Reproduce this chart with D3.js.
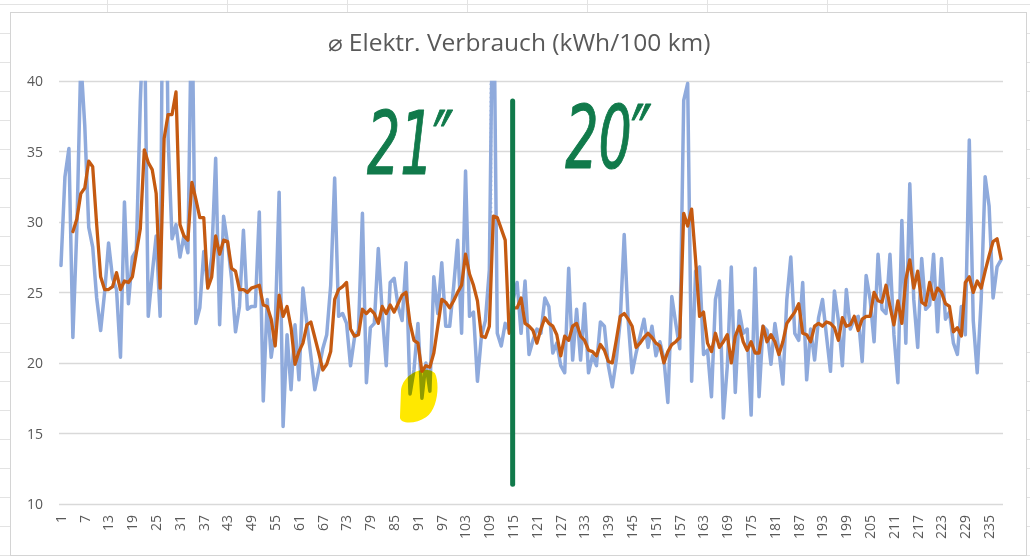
<!DOCTYPE html>
<html><head><meta charset="utf-8">
<script src="https://cdn.jsdelivr.net/npm/d3@7"></script>
<style>html,body{margin:0;padding:0;background:#fff;overflow:hidden}</style>
</head><body><svg id="c" width="1030" height="556"></svg>
<script>
// ---------- data ----------
const categories = d3.range(1, 239);   // trip numbers 1..238
const consumption = [
  26.9, 33.2, 35.2, 21.8, 29.5, 41.5, 36.8, 29.6, 28.2, 24.6,
  22.3, 25.0, 28.5, 26.0, 25.2, 20.4, 31.4, 24.2, 27.5, 28.0,
  38.5, 46.0, 23.3, 26.3, 29.0, 23.3, 62.0, 36.0, 28.8, 29.8,
  27.5, 29.0, 27.8, 47.0, 22.8, 23.9, 27.9, 25.5, 27.5, 34.5,
  22.7, 30.4, 28.5, 26.0, 22.2, 24.0, 29.4, 23.8, 24.0, 24.0,
  30.7, 17.3, 24.5, 20.4, 22.5, 32.1, 15.5, 22.0, 18.1, 22.7,
  18.8, 25.3, 22.8, 20.5, 18.1, 19.5, 21.0, 22.0, 25.5, 33.1,
  23.3, 23.5, 22.8, 19.8, 21.8, 22.3, 30.6, 18.6, 22.5, 22.8,
  28.1, 23.5, 19.8, 25.7, 26.0, 24.0, 23.0, 27.1, 17.8, 19.5,
  22.8, 17.5, 20.0, 18.0, 26.1, 23.5, 27.1, 22.6, 22.6, 25.4,
  28.7, 22.1, 33.6, 23.3, 23.6, 18.7, 21.9, 23.0, 26.6, 50.0,
  22.1, 21.2, 22.8, 22.3, 24.5, 25.7, 22.1, 25.8, 20.6, 21.6,
  22.4, 22.1, 24.6, 24.0, 20.7, 21.4, 19.8, 19.3, 26.7, 20.2,
  23.8, 20.2, 24.2, 19.3, 20.5, 19.8, 22.9, 22.6, 19.8, 18.3,
  20.2, 23.0, 29.1, 23.0, 19.3, 20.7, 21.9, 23.1, 21.1, 22.6,
  20.5, 21.5, 20.3, 17.2, 24.7, 22.8, 21.0, 38.6, 39.8, 18.7,
  26.5, 26.8, 20.6, 20.9, 17.6, 24.5, 25.8, 16.1, 19.8, 26.8,
  17.9, 23.7, 22.1, 22.4, 16.3, 26.7, 17.6, 22.6, 22.3, 19.9,
  22.8, 20.9, 18.5, 24.5, 27.5, 22.1, 21.6, 25.7, 18.8, 22.4,
  20.2, 23.2, 24.5, 21.9, 19.4, 25.1, 23.0, 19.8, 25.2, 22.4,
  23.1, 23.3, 20.1, 26.2, 24.5, 21.5, 27.7, 23.8, 23.5, 27.7,
  22.0, 18.6, 30.1, 21.4, 32.7, 24.5, 21.1, 27.4, 23.8, 24.1,
  27.7, 22.2, 27.4, 23.1, 23.6, 21.4, 20.6, 24.0, 22.0, 35.8,
  23.0, 19.3, 24.5, 33.2, 31.1, 24.6, 26.8, 27.3
];
const movingAvg = [
  null, null, null, 29.3, 30.2, 32.0, 32.4, 34.3, 33.9, 29.8,
  26.1, 25.2, 25.2, 25.4, 26.4, 25.2, 25.8, 25.7, 26.1, 27.8,
  29.5, 35.1, 34.2, 33.7, 32.0, 25.3, 35.9, 37.6, 37.6, 39.2,
  29.8, 29.0, 28.7, 32.8, 31.6, 30.3, 30.3, 25.3, 26.1, 29.0,
  27.7, 28.7, 28.6, 26.7, 26.5, 25.2, 25.2, 25.0, 25.3, 25.4,
  25.5, 24.1, 24.0, 23.1, 21.2, 24.8, 23.3, 24.0, 22.5, 19.9,
  20.8, 21.4, 22.7, 22.9, 21.8, 20.7, 19.5, 19.9, 20.8, 24.5,
  25.2, 25.4, 25.7, 22.4, 21.9, 22.0, 23.8, 23.5, 23.8, 23.5,
  22.8, 24.0, 23.5, 24.1, 23.6, 24.2, 24.8, 25.0, 22.8, 21.6,
  21.4, 19.4, 19.8, 19.7, 20.7, 22.6, 24.5, 24.3, 23.9, 24.4,
  25.0, 25.5, 27.7, 26.3, 25.5, 24.4, 21.9, 21.8, 22.6, 30.4,
  30.3, 29.5, 28.7, 22.1, 23.9, 23.9, 24.6, 22.8, 22.6, 22.3,
  21.4, 22.4, 23.2, 22.8, 22.6, 22.0, 20.5, 21.9, 21.6, 22.6,
  22.8, 21.9, 21.6, 20.9, 20.8, 20.5, 21.3, 20.9, 20.1, 20.0,
  21.6, 23.3, 23.5, 23.1, 22.6, 21.1, 21.4, 21.8, 22.1, 21.8,
  21.4, 21.2, 20.0, 20.8, 21.3, 21.5, 21.8, 30.6, 29.7, 30.9,
  27.3, 23.3, 23.6, 21.4, 20.8, 22.1, 21.1, 21.5, 22.0, 20.0,
  21.9, 22.6, 21.5, 20.9, 21.5, 20.7, 20.7, 22.6, 21.5, 22.0,
  21.5, 20.6, 21.5, 22.8, 23.2, 23.6, 24.2, 22.1, 22.0, 21.5,
  22.6, 22.8, 22.6, 22.9, 22.8, 22.5, 21.6, 23.2, 22.6, 22.7,
  23.3, 22.3, 23.1, 23.3, 23.3, 25.0, 24.4, 24.3, 25.5, 24.0,
  22.7, 24.4, 22.8, 25.9, 27.3, 25.3, 26.5, 24.3, 24.1, 25.7,
  24.5, 25.3, 25.0, 24.2, 24.0, 22.2, 22.5, 21.9, 25.7, 26.1,
  25.0, 25.8, 25.3, 26.5, 27.6, 28.6, 28.8, 27.4
];
const yTicks = [10, 15, 20, 25, 30, 35, 40];
const xTickLabels = [1, 7, 13, 19, 25, 31, 37, 43, 49, 55, 61, 67, 73, 79, 85, 91, 97, 103, 109, 115,
  121, 127, 133, 139, 145, 151, 157, 163, 169, 175, 181, 187, 193, 199, 205, 211, 217, 223, 229, 235];
const chartTitle = "\u2300 Elektr. Verbrauch (kWh/100 km)";
const noteLabels = ["21\u2033", "20\u2033"];
const noteCats = [89, 139];
const noteValues = [33.4, 33.8];
const splitCat = 115;
const dottedCat = 109.4;
const highlightCat = 91;
const highlightValue = 17.7;

// ---------- layout ----------
const W = 1030, H = 556;
const plot = {left: 59, right: 1003, top: 80.7, bottom: 504};
const svg = d3.select("#c");

// spreadsheet background grid
const bg = svg.append("g").attr("stroke", "#e3e3e3").attr("stroke-width", 1);
d3.range(4.5, H, 29).forEach(y => bg.append("line").attr("x1", 0).attr("x2", W).attr("y1", y).attr("y2", y));
d3.range(107.5, W, 120).forEach(x => bg.append("line").attr("x1", x).attr("x2", x).attr("y1", 0).attr("y2", H));

// chart area
svg.append("rect").attr("x", 10.5).attr("y", 12.5).attr("width", 1016).attr("height", 543)
  .attr("fill", "#fff").attr("stroke", "#d4d4d4").attr("stroke-width", 1);

const x = d3.scaleBand().domain(categories).range([plot.left, plot.right]).paddingInner(0).paddingOuter(0);
const xc = c => x(c) + x.bandwidth() / 2;
const xl = d3.scaleLinear().domain([0.5, 238.5]).range([plot.left, plot.right]);
const y = d3.scaleLinear().domain([10, 40]).range([plot.bottom, plot.top]);

// gridlines
svg.append("g").selectAll("line").data(yTicks).join("line")
  .attr("x1", plot.left).attr("x2", plot.right)
  .attr("y1", d => Math.round(y(d)) + 0.5).attr("y2", d => Math.round(y(d)) + 0.5)
  .attr("stroke", "#d9d9d9").attr("stroke-width", 1.3);

// y axis labels
const yAxis = d3.axisLeft(y).tickValues(yTicks).tickSize(0).tickPadding(0);
const gy = svg.append("g").attr("transform", `translate(${43},0)`).call(yAxis);
gy.select(".domain").remove();
gy.selectAll("text").attr("font-family", "'Open Sans', 'Liberation Sans', sans-serif")
  .attr("font-size", 14).attr("fill", "#595959").attr("dy", "0.35em");

// x axis labels
const xAxis = d3.axisBottom(x).tickValues(xTickLabels).tickSize(0).tickPadding(0);
const gx = svg.append("g").attr("transform", `translate(0,${plot.bottom})`).call(xAxis);
gx.select(".domain").remove();
gx.selectAll("text")
  .attr("font-family", "'Open Sans', 'Liberation Sans', sans-serif")
  .attr("font-size", 14).attr("fill", "#595959")
  .attr("text-anchor", "end").attr("dy", "0.35em").attr("y", 0)
  .attr("transform", "translate(0,11) rotate(-90)");

// title
svg.append("text").attr("x", 519).attr("y", 51).attr("text-anchor", "middle")
  .attr("font-family", "'Open Sans', 'Liberation Sans', sans-serif").attr("font-size", 23)
  .attr("fill", "#595959").attr("textLength", 383).attr("lengthAdjust", "spacingAndGlyphs")
  .text(chartTitle);

// clip
svg.append("clipPath").attr("id", "pc").append("rect")
  .attr("x", plot.left - 5).attr("y", plot.top).attr("width", plot.right - plot.left + 10).attr("height", plot.bottom - plot.top);

const lineGen = d3.line().defined(d => d[1] != null).x(d => xc(d[0])).y(d => y(d[1]));
const pg = svg.append("g").attr("clip-path", "url(#pc)");
pg.append("path").datum(categories.map((c, i) => [c, consumption[i]]))
  .attr("d", lineGen).attr("fill", "none").attr("stroke", "#8FAADC").attr("stroke-width", 3.5)
  .attr("stroke-linejoin", "round").attr("stroke-linecap", "round");
pg.append("path").datum(categories.map((c, i) => [c, movingAvg[i]]))
  .attr("d", lineGen).attr("fill", "none").attr("stroke", "#C55A11").attr("stroke-width", 3.3)
  .attr("stroke-linejoin", "round").attr("stroke-linecap", "round");

// dotted annotation
svg.append("line").attr("x1", xl(dottedCat)).attr("x2", xl(dottedCat))
  .attr("y1", y(39.8)).attr("y2", y(30.4))
  .attr("stroke", "#8FAADC").attr("stroke-width", 2.6).attr("stroke-dasharray", "1.6,2.8");

// yellow highlighter blob
const hx = xc(highlightCat), hy = y(highlightValue);
svg.append("path")
  .attr("d", `M${hx - 17},${hy - 4} C${hx - 16},${hy - 22} ${hx + 8},${hy - 31} ${hx + 17},${hy - 22}
     C${hx + 22},${hy - 12} ${hx + 20},${hy + 14} ${hx + 8},${hy + 22}
     C${hx - 2},${hy + 29} ${hx - 18},${hy + 29} ${hx - 18},${hy + 22} Z`)
  .attr("fill", "#FFE800").style("mix-blend-mode", "multiply");

// split line
svg.append("line").attr("x1", xc(splitCat) - 0.5).attr("x2", xc(splitCat) - 0.5)
  .attr("y1", y(38.56)).attr("y2", y(11.4))
  .attr("stroke", "#117A4B").attr("stroke-width", 5).attr("stroke-linecap", "round");

// handwritten notes
svg.selectAll("text.note").data(noteLabels).join("text").attr("class", "note")
  .attr("x", (d, i) => xc(noteCats[i])).attr("y", (d, i) => y(noteValues[i]))
  .attr("text-anchor", "middle")
  .attr("font-family", "'DejaVu Sans', sans-serif").attr("font-style", "italic").attr("font-weight", "normal")
  .attr("font-size", 88).attr("fill", "#117A4B").attr("stroke", "#117A4B").attr("stroke-width", 1.2)
  .attr("stroke-linejoin", "round")
  .attr("textLength", 86).attr("lengthAdjust", "spacingAndGlyphs")
  .text(d => d);
</script></body></html>
